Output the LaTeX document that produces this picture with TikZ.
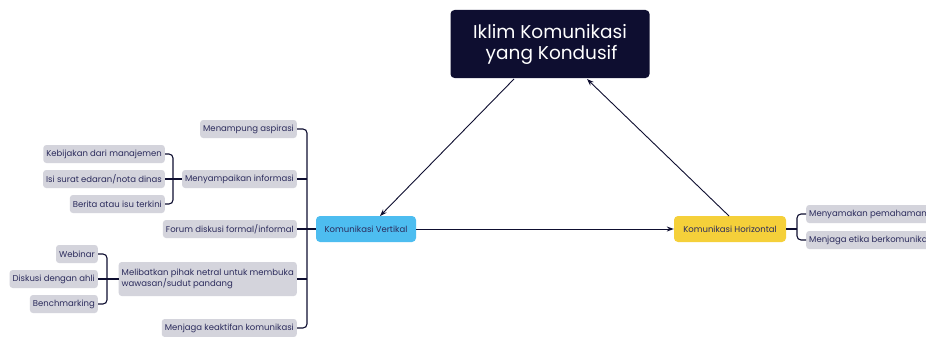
\documentclass[tikz,border=0pt]{standalone}
\usepackage{fontspec}
\setmainfont{Poppins}
\usetikzlibrary{arrows.meta,positioning}
\definecolor{navy}{HTML}{0E0E30}
\definecolor{ink}{HTML}{2B2B5C}
\definecolor{itemgray}{HTML}{D4D4DC}
\definecolor{vblue}{HTML}{4DBDF0}
\definecolor{hyellow}{HTML}{F5D03A}
\tikzset{
  item/.style={fill=itemgray, rounded corners=3pt, text=ink, font=\fontsize{8.5}{10}\selectfont, inner xsep=3pt, inner ysep=0pt, minimum height=18pt, align=left},
  mainbox/.style={rounded corners=4pt, text=ink, font=\fontsize{8.5}{10}\selectfont, minimum height=26pt, inner xsep=4pt},
  link/.style={draw=navy, line width=1.1pt, rounded corners=4pt},
  arr/.style={draw=navy, line width=0.9pt, -{Stealth[length=7pt,width=5pt]}}
}
\begin{document}
\begin{tikzpicture}[x=1pt,y=-1pt]
\path[use as bounding box] (0,0) rectangle (926,337);
\clip (0,0) rectangle (926,337);
\fill[white] (0,0) rectangle (926,337);
% title
\node[fill=navy, rounded corners=4pt, text=white, minimum width=199pt, minimum height=68pt, align=center, font=\fontsize{18.5}{21}\selectfont] (top) at (550,44) {Iklim Komunikasi\\ \,yang Kondusif};
% main nodes
\node[mainbox, fill=vblue, minimum width=100pt] (vert) at (366,229) {Komunikasi Vertikal};
\node[mainbox, fill=hyellow, minimum width=112pt] (hor) at (730,229) {Komunikasi Horizontal};
% arrows
\coordinate (t1) at (514,79);
\coordinate (t2) at (587,79);
\coordinate (v1) at (380,216);
\coordinate (h1) at (729,216);
\draw[arr] (t1) -- (v1);
\draw[arr] (h1) -- (t2);
\draw[arr] (vert.east) -- (hor.west);
% left items
\node[item, anchor=east] (a1) at (297,129) {Menampung aspirasi};
\node[item, anchor=east] (a2) at (297,179) {Menyampaikan informasi};
\node[item, anchor=east] (a3) at (297,229) {Forum diskusi formal/informal};
\node[item, anchor=east, minimum height=34pt, font=\fontsize{8.5}{11}\selectfont] (a4) at (297,279) {Melibatkan pihak netral untuk membuka\\wawasan/sudut pandang};
\node[item, anchor=east] (a5) at (297,328) {Menjaga keaktifan komunikasi};
% sub items of a2
\node[item, anchor=east] (b1) at (165,154) {Kebijakan dari manajemen};
\node[item, anchor=east] (b2) at (165,179) {Isi surat edaran/nota dinas};
\node[item, anchor=east] (b3) at (165,204) {Berita atau isu terkini};
% sub items of a4
\node[item, anchor=east] (c1) at (98,254) {Webinar};
\node[item, anchor=east] (c2) at (98,279) {Diskusi dengan ahli};
\node[item, anchor=east] (c3) at (98,304) {Benchmarking};
% right items
\node[item, anchor=west] (r1) at (806,214) {Menyamakan pemahaman};
\node[item, anchor=west] (r2) at (806,240) {Menjaga etika berkomunikasi};
% brackets
\draw[link] (a1.east) -- (307,129) -- (307,328) -- (a5.east);
\draw[link] (a2.east) -- (307,179);
\draw[link] (a3.east) -- (vert.west);
\draw[link] (a4.east) -- (307,279);
\draw[link] (b1.east) -- (173,154) -- (173,204) -- (b3.east);
\draw[link] (b2.east) -- (a2.west);
\draw[link] (c1.east) -- (107,254) -- (107,304) -- (c3.east);
\draw[link] (c2.east) -- (a4.west);
\draw[link] (r1.west) -- (797,214) -- (797,240) -- (r2.west);
\draw[link] (hor.east) -- (797,229);
\end{tikzpicture}
\end{document}
